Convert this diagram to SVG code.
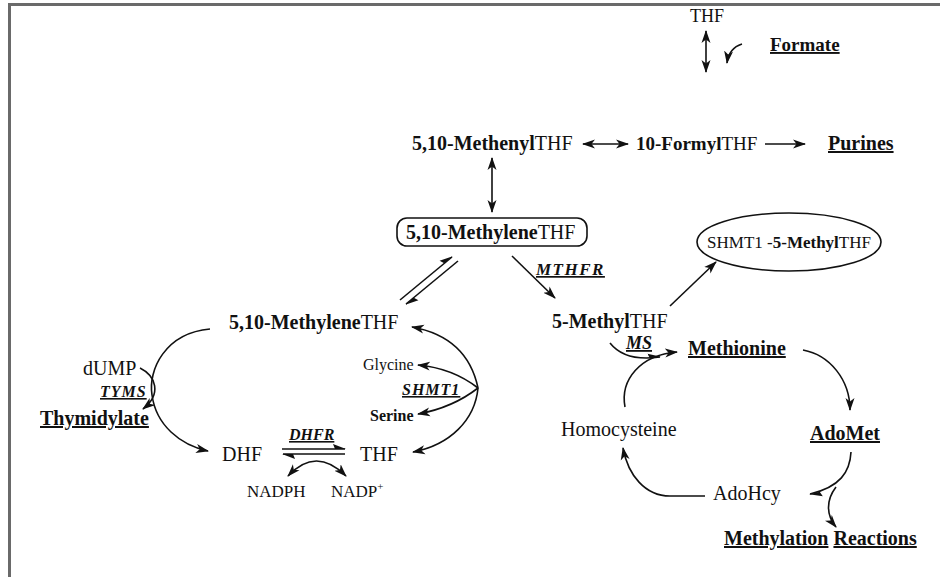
<svg xmlns="http://www.w3.org/2000/svg" width="940" height="577" viewBox="0 0 940 577">
<style>
text{font-family:"Liberation Serif","Times New Roman",serif;fill:#111;font-size:20px}
.b{font-weight:bold}
.s16{font-size:16px}
.s17{font-size:17px}
.s18{font-size:18px}
.enz{font-weight:bold;font-style:italic;text-decoration:underline}
.u{text-decoration:underline}
.c{fill:none;stroke:#111;stroke-width:1.6}
</style>
<defs>
<marker id="ah" markerUnits="userSpaceOnUse" markerWidth="14" markerHeight="10" refX="12" refY="5" orient="auto-start-reverse" viewBox="0 0 14 10">
<path d="M0,0.5 L13,5 L0,9.5 L3.5,5 z" fill="#111"/>
</marker>
<marker id="hh" markerUnits="userSpaceOnUse" markerWidth="14" markerHeight="10" refX="12" refY="6" orient="auto" viewBox="0 0 14 10">
<path d="M0,1 L13,6 L2,6 z" fill="#111"/>
</marker>
</defs>
<rect x="0" y="0" width="940" height="577" fill="#fff"/>
<path d="M9.5,577 V4.5 H940" fill="none" stroke="#6a6a6a" stroke-width="3"/>

<g id="connectors">
<line class="c" x1="706" y1="31" x2="706" y2="72" marker-start="url(#ah)" marker-end="url(#ah)"/>
<path class="c" d="M742,44 Q729,48 727,63" marker-end="url(#ah)"/>
<line class="c" x1="583" y1="144" x2="628" y2="144" marker-start="url(#ah)" marker-end="url(#ah)"/>
<line class="c" x1="765" y1="144" x2="805" y2="144" marker-end="url(#ah)"/>
<line class="c" x1="492" y1="158" x2="492" y2="212" marker-start="url(#ah)" marker-end="url(#ah)"/>
<line class="c" x1="400" y1="300" x2="452" y2="257" marker-end="url(#hh)"/>
<line class="c" x1="458" y1="261" x2="406" y2="304" marker-end="url(#hh)"/>
<line class="c" x1="512" y1="256" x2="555" y2="298" marker-end="url(#ah)"/>
<line class="c" x1="670" y1="306" x2="716" y2="262" marker-end="url(#ah)"/>
<path class="c" d="M210,329 C165,333 148,370 152,395 C156,425 180,445 208,451" marker-end="url(#ah)"/>
<path class="c" d="M140,368 C156,376 162,394 143,409" marker-end="url(#ah)"/>
<path class="c" d="M478,388 C470,350 445,333 412,327" marker-end="url(#ah)"/>
<path class="c" d="M478,388 C475,420 450,445 413,452" marker-end="url(#ah)"/>
<path class="c" d="M478,388 C460,374 440,367 418,365" marker-end="url(#ah)"/>
<path class="c" d="M478,388 C460,402 440,410 418,414" marker-end="url(#ah)"/>
<line class="c" x1="282" y1="449" x2="345" y2="449" marker-end="url(#hh)"/>
<line class="c" x1="345" y1="454" x2="283" y2="454" marker-end="url(#hh)"/>
<path class="c" d="M288,476 Q316,446 346,476" marker-start="url(#ah)" marker-end="url(#ah)"/>
<path class="c" d="M610,343 Q625,362 660,357" marker-end="url(#hh)"/>
<path class="c" d="M625,407 C620,380 640,355 677,352" marker-end="url(#ah)"/>
<path class="c" d="M803,350 C830,355 850,380 850,410" marker-end="url(#ah)"/>
<path class="c" d="M705,496 L670,496 C645,496 628,475 623,448" marker-end="url(#ah)"/>
<path class="c" d="M851,452 C850,472 840,487 810,494" marker-end="url(#hh)"/>
<path class="c" d="M836,487 C826,500 826,515 836,527" marker-end="url(#ah)"/>
</g>

<g id="thf-top"><text x="690" y="22" class="s18">THF</text></g>
<g id="formate"><text x="770" y="51" class="b u" style="font-size:19px">Formate</text></g>
<g id="methenyl"><text x="412" y="150"><tspan class="b">5,10-Methenyl</tspan>THF</text></g>
<g id="formyl"><text x="636" y="150" style="font-size:19px"><tspan class="b">10-Formyl</tspan>THF</text></g>
<g id="purines"><text x="828" y="150" class="b u">Purines</text></g>
<g id="methylene-box">
<rect x="397" y="218" width="190" height="28" rx="10" fill="none" stroke="#111" stroke-width="1.6"/>
<text x="406" y="239"><tspan class="b">5,10-Methylene</tspan>THF</text>
</g>
<g id="mthfr"><text x="536" y="275" class="enz s17" letter-spacing="1.5">MTHFR</text></g>
<g id="methylthf"><text x="552" y="328"><tspan class="b">5-Methyl</tspan>THF</text></g>
<g id="shmt1-complex">
<ellipse cx="789" cy="242" rx="92" ry="29" fill="none" stroke="#111" stroke-width="1.6"/>
<text x="789" y="248" text-anchor="middle" class="s17">SHMT1 -<tspan class="b">5-Methyl</tspan>THF</text>
</g>
<g id="methylene-left"><text x="229" y="329"><tspan class="b">5,10-Methylene</tspan>THF</text></g>
<g id="dump"><text x="83" y="375">dUMP</text></g>
<g id="tyms"><text x="100" y="397" class="enz s16" letter-spacing="1">TYMS</text></g>
<g id="thymidylate"><text x="40" y="425" class="b u">Thymidylate</text></g>
<g id="glycine"><text x="363" y="370" class="s16">Glycine</text></g>
<g id="shmt1"><text x="402" y="395" class="enz s16" letter-spacing="1">SHMT1</text></g>
<g id="serine"><text x="370" y="421" class="b s16">Serine</text></g>
<g id="dhf"><text x="222" y="461">DHF</text></g>
<g id="dhfr"><text x="289" y="440" class="enz s16">DHFR</text></g>
<g id="thf"><text x="360" y="461">THF</text></g>
<g id="nadph"><text x="247" y="497" class="s17">NADPH</text></g>
<g id="nadp"><text x="331" y="497" class="s17">NADP<tspan dy="-7" style="font-size:11px">+</tspan></text></g>
<g id="ms"><text x="626" y="349" class="enz s18">MS</text></g>
<g id="methionine"><text x="688" y="355" class="b u">Methionine</text></g>
<g id="homocysteine"><text x="561" y="436">Homocysteine</text></g>
<g id="adomet"><text x="810" y="440" class="b u">AdoMet</text></g>
<g id="adohcy"><text x="713" y="500">AdoHcy</text></g>
<g id="methylation"><text x="724" y="545" class="b"><tspan class="u">Methylation</tspan> <tspan class="u">Reactions</tspan></text></g>
</svg>
